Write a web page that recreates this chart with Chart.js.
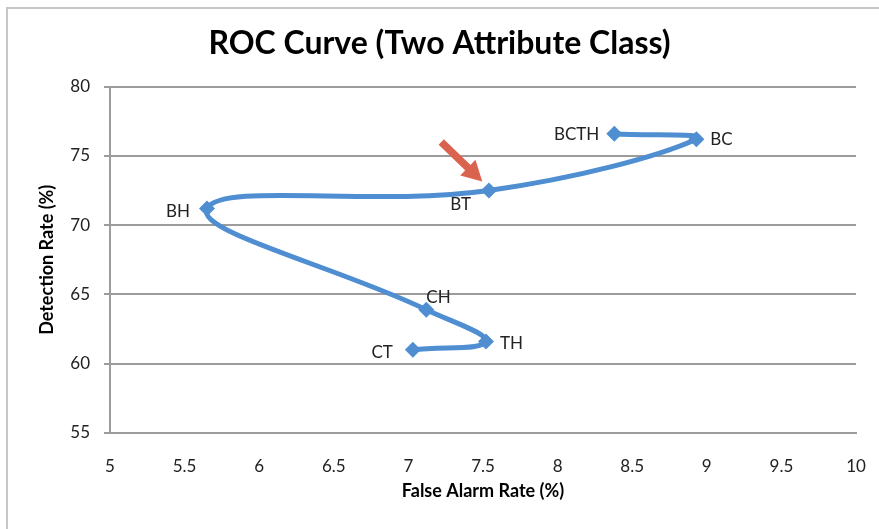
<!DOCTYPE html>
<html lang="en">
<head>
<meta charset="UTF-8">
<title>ROC Curve (Two Attribute Class)</title>
<script src="https://cdn.jsdelivr.net/npm/chart.js@4.4.1/dist/chart.umd.min.js"></script>
<style>
  html, body { margin: 0; padding: 0; background: #fff; }
  #wrap { position: relative; width: 879px; height: 529px; overflow: hidden; }
  /* thin frame the screenshot was cut from */
  #frame { position: absolute; left: 6px; top: 7px; right: -4px; bottom: -4px;
           border-top: 2px solid #c6c6c6; border-left: 2px solid #c6c6c6; }
  canvas { position: absolute; left: 0; top: 0; }
</style>
</head>
<body>
<div id="wrap">
  <div id="frame"></div>
  <canvas id="roc" width="879" height="529"></canvas>
</div>
<script>
// attribute pairs, in the order the curve runs through them
const pairs = ['BCTH', 'BC', 'BT', 'BH', 'CH', 'TH', 'CT'];
const falseAlarm = [8.38, 8.93, 7.54, 5.65, 7.12, 7.52, 7.03];
const detection = [76.6, 76.2, 72.5, 71.2, 63.9, 61.6, 61.0];

const xTicks = [5, 5.5, 6, 6.5, 7, 7.5, 8, 8.5, 9, 9.5, 10];
const yTicks = [55, 60, 65, 70, 75, 80];

// red arrow pointing at BT, [false alarm, detection]
const arrowTail = [7.22, 76.0];
const arrowHead = [7.495, 73.15];

const FONT = 'Lato';
const BLUE = '#4e8ed1';
const GRID = '#9c9c9c';

// where each point label sits: dx, dy from the marker, text alignment
const labelPlace = {
    BCTH: [-15, 1, 'right'],
    BC:   [14, 0, 'left'],
    BT:   [-18, 14, 'right'],
    BH:   [-17, 3, 'right'],
    CH:   [0, -12, 'left'],
    TH:   [14, 2, 'left'],
    CT:   [-20, 3, 'right']
};

const pointLabels = {
    id: 'pointLabels',
    afterDatasetsDraw(chart) {
        const ctx = chart.ctx;
        const meta = chart.getDatasetMeta(0);
        ctx.save();
        ctx.font = '17px ' + FONT;
        ctx.fillStyle = '#222';
        ctx.textBaseline = 'middle';
        meta.data.forEach((pt, i) => {
            const [dx, dy, align] = labelPlace[pairs[i]];
            ctx.textAlign = align;
            ctx.fillText(pairs[i], pt.x + dx, pt.y + dy);
        });
        ctx.restore();
    }
};

const arrow = {
    id: 'arrow',
    afterDatasetsDraw(chart) {
        const { ctx, scales: { x, y } } = chart;
        const x0 = x.getPixelForValue(arrowTail[0]), y0 = y.getPixelForValue(arrowTail[1]);
        const x1 = x.getPixelForValue(arrowHead[0]), y1 = y.getPixelForValue(arrowHead[1]);
        const ang = Math.atan2(y1 - y0, x1 - x0);
        const headLen = 20, headHalf = 11;
        const bx = x1 - headLen * Math.cos(ang), by = y1 - headLen * Math.sin(ang);
        ctx.save();
        ctx.strokeStyle = '#d9634f';
        ctx.fillStyle = '#d9634f';
        ctx.lineWidth = 7.5;
        ctx.beginPath();
        ctx.moveTo(x0, y0);
        ctx.lineTo(bx + 2 * Math.cos(ang), by + 2 * Math.sin(ang));
        ctx.stroke();
        ctx.beginPath();
        ctx.moveTo(x1, y1);
        ctx.lineTo(bx + headHalf * Math.sin(ang), by - headHalf * Math.cos(ang));
        ctx.lineTo(bx - headHalf * Math.sin(ang), by + headHalf * Math.cos(ang));
        ctx.closePath();
        ctx.fill();
        ctx.restore();
    }
};

new Chart(document.getElementById('roc'), {
    type: 'scatter',
    data: {
        datasets: [{
            label: 'ROC',
            data: pairs.map((p, i) => ({ x: falseAlarm[i], y: detection[i] })),
            showLine: true,
            tension: 0.42,
            borderColor: BLUE,
            borderWidth: 5,
            pointStyle: 'rectRot',
            pointRadius: 8,
            pointBackgroundColor: BLUE,
            pointBorderWidth: 0
        }]
    },
    options: {
        responsive: false,
        animation: false,
        devicePixelRatio: 1,
        layout: { padding: 0 },
        plugins: {
            legend: { display: false },
            tooltip: { enabled: false },
            title: {
                display: true,
                text: 'ROC Curve (Two Attribute Class)',
                color: '#000',
                font: { family: FONT, size: 32, weight: 'bold' },
                padding: { top: 24, bottom: 24.2 }
            }
        },
        scales: {
            x: {
                type: 'linear',
                min: 5,
                max: 10,
                afterBuildTicks: s => { s.ticks = xTicks.map(v => ({ value: v })); },
                // fixed axis band and right margin so the plot box matches the original
                afterFit: s => { s.height = 96; s.paddingLeft = 0; s.paddingRight = 23; },
                grid: { display: false },
                border: { display: true, color: GRID, width: 2 },
                ticks: { color: '#222', padding: 15, maxRotation: 0, callback: v => v,
                         font: { family: FONT, size: 17 } },
                title: {
                    display: true,
                    text: 'False Alarm Rate (%)',
                    color: '#000',
                    font: { family: FONT, size: 18, weight: 'bold' },
                    padding: { top: 0, bottom: 27.5 }
                }
            },
            y: {
                type: 'linear',
                min: 55,
                max: 80,
                afterBuildTicks: s => { s.ticks = yTicks.map(v => ({ value: v })); },
                afterFit: s => { s.width = 110; },
                grid: { color: GRID, lineWidth: 2, tickLength: 6 },
                border: { display: true, color: GRID, width: 2 },
                ticks: { color: '#222', padding: 14, font: { family: FONT, size: 17 } },
                title: {
                    display: true,
                    text: 'Detection Rate (%)',
                    color: '#000',
                    font: { family: FONT, size: 18, weight: 'bold' },
                    padding: { top: 36.5, bottom: 0 }
                }
            }
        }
    },
    plugins: [pointLabels, arrow]
});
</script>
</body>
</html>
